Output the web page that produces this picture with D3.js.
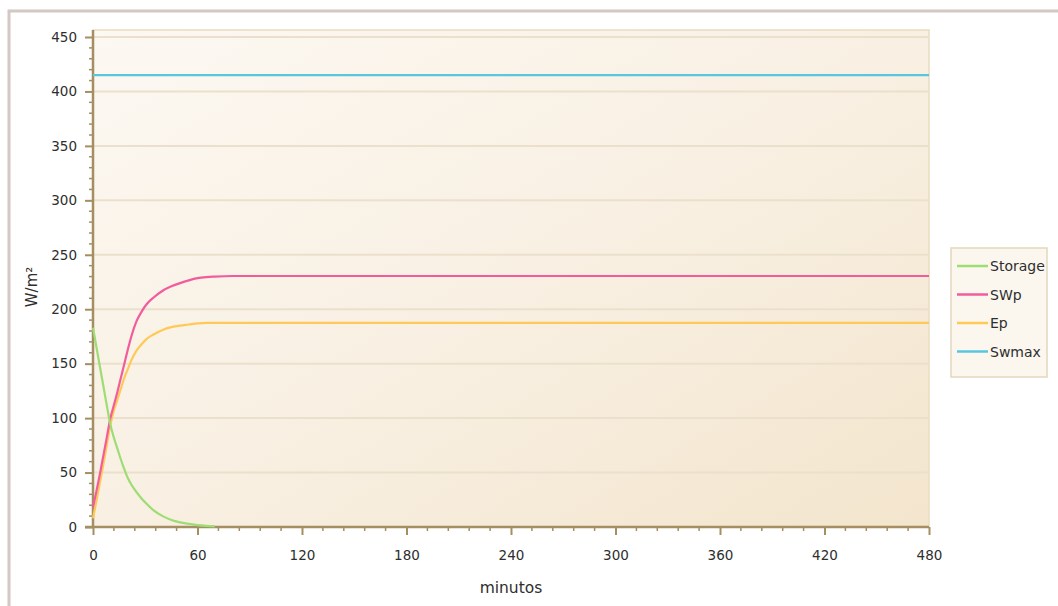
<!DOCTYPE html>
<html>
<head>
<meta charset="utf-8">
<script src="https://cdn.jsdelivr.net/npm/d3@7"></script>
<style>
  html, body { margin: 0; padding: 0; background: #ffffff; }
  svg { display: block; }
  text { font-family: "DejaVu Sans", Verdana, sans-serif; fill: #2e2e2e; }
</style>
</head>
<body>
<svg id="chart" width="1058" height="606"></svg>
<script>
// Time axis (minutes) shared by all series
const minutes = [0, 2, 4, 6, 8, 10, 12, 14, 16, 18, 20, 22, 25, 28, 31, 35, 40, 45, 50, 55, 60, 65, 70, 80, 120, 240, 480];

// Energy fluxes in W/m² (null = not computed)
const storage = [183, 165, 147, 129, 111, 94, 82, 72, 62, 53, 45, 39, 32, 26, 21, 15, 10, 6.5, 4.3, 2.8, 1.8, 1.1, 0.6, null, null, null, null];
const swp     = [18, 33, 49, 66, 83, 100, 112, 124, 137, 150, 163, 175, 189, 198, 205, 211, 217, 221, 224, 226.5, 228.5, 229.5, 230, 230.5, 230.5, 230.5, 230.5];
const ep      = [8, 24, 41, 58, 76, 94, 107, 117, 127, 137, 145, 153, 162, 168, 173, 177, 181, 183.5, 185, 186, 187, 187.5, 187.5, 187.5, 187.5, 187.5, 187.5];
const swmax   = [415, 415, 415, 415, 415, 415, 415, 415, 415, 415, 415, 415, 415, 415, 415, 415, 415, 415, 415, 415, 415, 415, 415, 415, 415, 415, 415];

const seriesNames  = ["Storage", "SWp", "Ep", "Swmax"];
const seriesColors = ["#9edc74", "#f25c9c", "#ffc958", "#58c6de"];
const seriesValues = [storage, swp, ep, swmax];

const xTicks = [0, 60, 120, 180, 240, 300, 360, 420, 480];
const yTicks = [0, 50, 100, 150, 200, 250, 300, 350, 400, 450];

const svg = d3.select("#chart");

// Outer panel frame
svg.append("path")
  .attr("d", "M9,620 L9,11 L1070,11")
  .attr("fill", "none")
  .attr("stroke", "#d2c8c4")
  .attr("stroke-width", 3);

const plot = { left: 93, right: 929, top: 30, bottom: 527 };

const x = d3.scaleLinear().domain([0, 480]).range([plot.left, plot.right]);
const y = d3.scaleLinear().domain([0, 450]).range([plot.bottom, 37]);

// Plot background gradient
const defs = svg.append("defs");
const grad = defs.append("linearGradient")
  .attr("id", "bg").attr("x1", "0").attr("y1", "0").attr("x2", "1").attr("y2", "1");
grad.append("stop").attr("offset", "0%").attr("stop-color", "#fcf8f2");
grad.append("stop").attr("offset", "55%").attr("stop-color", "#f8efe1");
grad.append("stop").attr("offset", "100%").attr("stop-color", "#f3e5cd");

svg.append("rect")
  .attr("x", plot.left).attr("y", plot.top)
  .attr("width", plot.right - plot.left).attr("height", plot.bottom - plot.top)
  .attr("fill", "url(#bg)")
  .attr("stroke", "#eadcc0").attr("stroke-width", 1.5);

// Horizontal grid lines
svg.append("g").selectAll("line")
  .data(yTicks.filter(d => d > 0))
  .join("line")
  .attr("x1", plot.left).attr("x2", plot.right)
  .attr("y1", d => y(d)).attr("y2", d => y(d))
  .attr("stroke", "#ebe0cb").attr("stroke-width", 2);

const axisColor = "#a48e62";

// Minor ticks
const yMinor = d3.range(0, 451, 10).filter(v => v % 50 !== 0);
svg.append("g").selectAll("line")
  .data(yMinor).join("line")
  .attr("x1", plot.left - 4).attr("x2", plot.left)
  .attr("y1", d => y(d)).attr("y2", d => y(d))
  .attr("stroke", axisColor).attr("stroke-width", 1.5);

const xMinor = d3.range(0, 481, 12).filter(v => v % 60 !== 0);
svg.append("g").selectAll("line")
  .data(xMinor).join("line")
  .attr("x1", d => x(d)).attr("x2", d => x(d))
  .attr("y1", plot.bottom).attr("y2", plot.bottom + 4)
  .attr("stroke", axisColor).attr("stroke-width", 1.5);

// Y axis
const yAxis = svg.append("g")
  .attr("transform", `translate(${plot.left},0)`)
  .call(d3.axisLeft(y).tickValues(yTicks).tickSize(8).tickPadding(8));
yAxis.select(".domain").attr("stroke", axisColor).attr("stroke-width", 2.5)
  .attr("d", `M0,${plot.top}V${plot.bottom}`);
yAxis.selectAll(".tick line").attr("stroke", axisColor).attr("stroke-width", 2);
yAxis.selectAll(".tick text").attr("font-size", 13.5).attr("fill", "#2e2e2e")
  .style("font-family", "'DejaVu Sans', sans-serif");

// X axis
const xAxis = svg.append("g")
  .attr("transform", `translate(0,${plot.bottom})`)
  .call(d3.axisBottom(x).tickValues(xTicks).tickSize(8).tickPadding(15));
xAxis.select(".domain").attr("stroke", axisColor).attr("stroke-width", 2.5)
  .attr("d", `M${plot.left - 8},0H${plot.right}`);
xAxis.selectAll(".tick line").attr("stroke", axisColor).attr("stroke-width", 2);
xAxis.selectAll(".tick text").attr("font-size", 13.5).attr("fill", "#2e2e2e")
  .style("font-family", "'DejaVu Sans', sans-serif");

// Axis titles
svg.append("text")
  .attr("x", (plot.left + plot.right) / 2).attr("y", 593)
  .attr("text-anchor", "middle").attr("font-size", 15.5)
  .text("minutos");

svg.append("text")
  .attr("transform", "translate(37,287) rotate(-90)")
  .attr("text-anchor", "middle").attr("font-size", 15)
  .text("W/m²");

// Series lines
const line = d3.line()
  .defined(d => d.v !== null)
  .x(d => x(d.t))
  .y(d => y(d.v))
  .curve(d3.curveMonotoneX);

// Draw order: Swmax, Ep, SWp, Storage on top
[3, 2, 1, 0].forEach(i => {
  const pts = minutes.map((t, k) => ({ t, v: seriesValues[i][k] }));
  svg.append("path")
    .datum(pts)
    .attr("fill", "none")
    .attr("stroke", seriesColors[i])
    .attr("stroke-width", 2.2)
    .attr("d", line);
});

// Legend
const legend = svg.append("g").attr("transform", "translate(951,248)");
legend.append("rect")
  .attr("width", 96).attr("height", 129)
  .attr("fill", "#fbf7ef").attr("stroke", "#e4d8bd").attr("stroke-width", 1.5);
seriesNames.forEach((name, i) => {
  const gy = 18 + i * 28.5;
  legend.append("line")
    .attr("x1", 6).attr("x2", 37).attr("y1", gy).attr("y2", gy)
    .attr("stroke", seriesColors[i]).attr("stroke-width", 2.5);
  legend.append("text")
    .attr("x", 39).attr("y", gy + 5)
    .attr("font-size", 14)
    .text(name);
});
</script>
</body>
</html>
